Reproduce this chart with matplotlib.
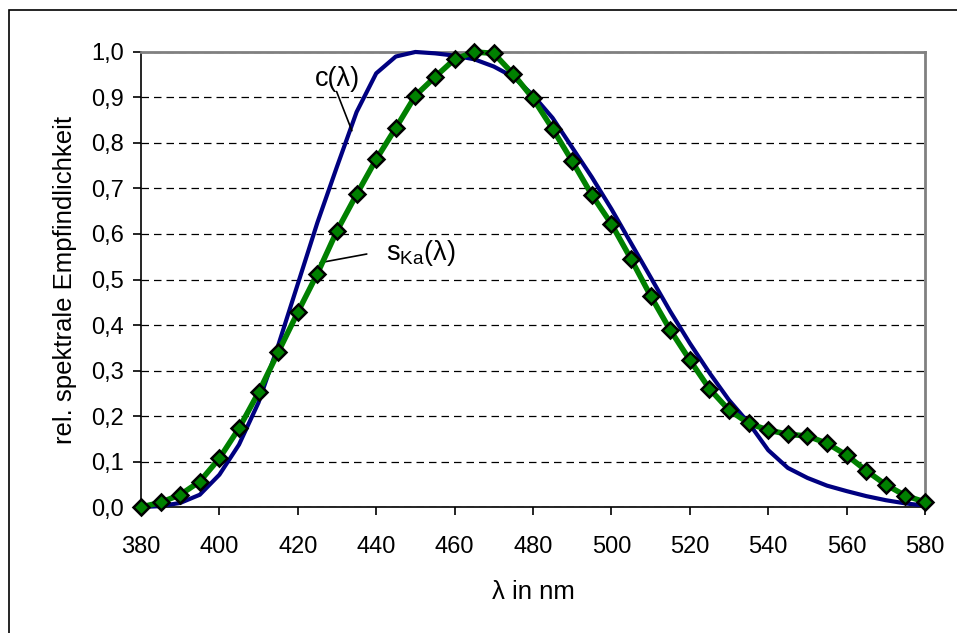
import matplotlib.pyplot as plt
from matplotlib.patches import Rectangle
from matplotlib.ticker import FuncFormatter

plt.rcParams['font.family'] = ['Liberation Sans', 'DejaVu Sans']

# wavelengths in nm
wl = list(range(380, 585, 5))

# s_Ka(lambda), green curve with diamond markers
s_ka = [0.0, 0.01, 0.027, 0.056, 0.107, 0.173, 0.252, 0.34, 0.428, 0.513,
        0.607, 0.687, 0.764, 0.833, 0.904, 0.945, 0.984, 1.0, 0.997, 0.951,
        0.898, 0.831, 0.76, 0.686, 0.622, 0.545, 0.464, 0.389, 0.323, 0.26,
        0.213, 0.184, 0.169, 0.16, 0.156, 0.14, 0.114, 0.08, 0.049, 0.025, 0.011]

# c(lambda), blue curve
c_val = [0.0, 0.002, 0.009, 0.027, 0.071, 0.137, 0.23, 0.355, 0.49, 0.625,
         0.748, 0.868, 0.953, 0.99, 1.0, 0.997, 0.992, 0.984, 0.968, 0.945,
         0.905, 0.855, 0.79, 0.725, 0.655, 0.58, 0.505, 0.43, 0.36, 0.295,
         0.235, 0.185, 0.125, 0.086, 0.064, 0.047, 0.035, 0.024, 0.015, 0.008, 0.003]

fig = plt.figure(figsize=(9.57, 6.33), dpi=100)
ax = fig.add_axes([0.1473, 0.199, 0.8193, 0.7189])

# outer frame of the chart object
fig.patches.append(Rectangle((9 / 957, -0.1), 1.2, 1 - 10 / 633 + 0.1,
                             transform=fig.transFigure, fill=False,
                             edgecolor='black', linewidth=1.2))

ax.plot(wl, c_val, color='#000080', linewidth=3, zorder=3, clip_on=False)
ax.plot(wl, s_ka, color='#008000', linewidth=4, marker='D', markersize=8,
        markerfacecolor='#008000', markeredgecolor='black', markeredgewidth=1.8,
        zorder=4, clip_on=False)

ax.set_xlim(380, 580)
ax.set_ylim(0, 1.0)
ax.set_xticks(range(380, 600, 20))
ax.set_yticks([i / 10 for i in range(11)])
ax.yaxis.set_major_formatter(FuncFormatter(lambda v, p: f"{v:.1f}".replace('.', ',')))

ax.yaxis.grid(True, linestyle=(0, (6, 4)), color='black', linewidth=0.9)
ax.set_axisbelow(True)

for side in ['top', 'right']:
    ax.spines[side].set_color('#808080')
    ax.spines[side].set_linewidth(2)
for side in ['left', 'bottom']:
    ax.spines[side].set_color('black')
    ax.spines[side].set_linewidth(1.2)

ax.tick_params(axis='both', direction='out', length=5.5, width=1.2, labelsize=17)
ax.tick_params(axis='x', pad=15)
ax.tick_params(axis='y', pad=7)

ax.set_xlabel("λ in nm", fontsize=18.5, labelpad=16)
ax.set_ylabel("rel. spektrale Empfindlichkeit", fontsize=18.5, labelpad=10)

# curve labels with leader lines
ax.text(430.1, 0.94, "c(λ)", fontsize=19.5, ha='center', va='center')
ax.annotate("", xy=(433.8, 0.827), xytext=(429.9, 0.913),
            arrowprops=dict(arrowstyle='-', color='black', lw=1.2, shrinkA=0, shrinkB=0))
ax.text(451.4, 0.559, "s$_{\\mathregular{Ka}}$(λ)", fontsize=19.5, ha='center', va='center')
ax.annotate("", xy=(425.7, 0.537), xytext=(437.6, 0.556),
            arrowprops=dict(arrowstyle='-', color='black', lw=1.2, shrinkA=0, shrinkB=0))

fig.savefig("out.png", dpi=100)
